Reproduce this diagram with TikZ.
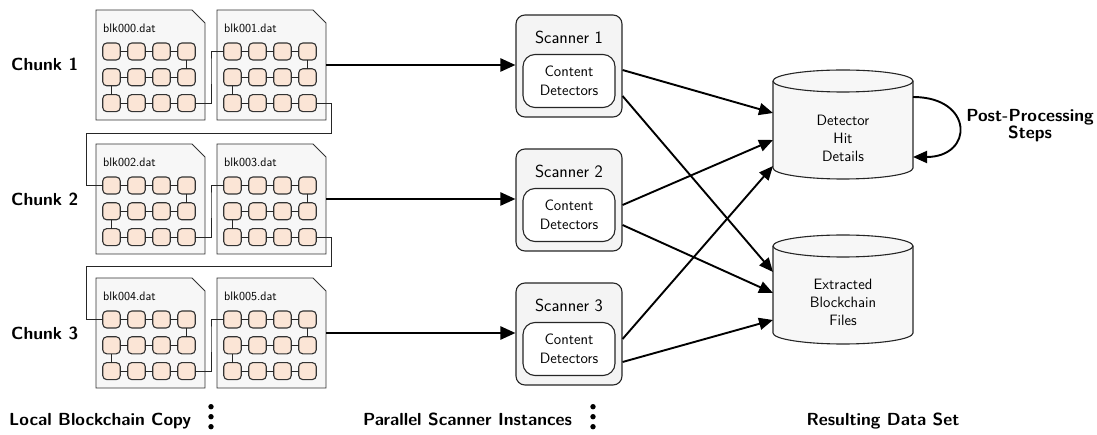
\documentclass[tikz,border=0pt]{standalone}
\usetikzlibrary{arrows.meta,calc}

\definecolor{blockfill}{HTML}{FBE5D6}
\definecolor{paper}{HTML}{F7F7F7}
\definecolor{boxfill}{HTML}{F4F4F4}

\tikzset{
  filenode/.style={minimum width=109pt, minimum height=110pt, inner sep=0pt, outer sep=0pt},
  filebody/.style={draw=black!80, line width=0.9pt, fill=paper},
  blockbox/.style={draw=black!80, line width=1.1pt, fill=blockfill, rounded corners=4pt,
    minimum width=17.5pt, minimum height=17pt, inner sep=0pt, outer sep=0pt},
  chainlink/.style={draw=black!85, line width=0.9pt},
  filelabel/.style={font=\sffamily\fontsize{12.3}{14}\selectfont, inner sep=0pt, anchor=base west},
  scanner/.style={draw=black!85, line width=1.1pt, fill=boxfill, rounded corners=9pt,
    minimum width=106pt, minimum height=102pt, inner sep=0pt},
  scantitle/.style={font=\sffamily\fontsize{17.5}{20}\selectfont, inner sep=0pt, anchor=base},
  detector/.style={draw=black!85, line width=1.1pt, fill=white, rounded corners=12pt,
    minimum width=92pt, minimum height=53pt, inner sep=0pt, align=center,
    font=\sffamily\fontsize{15}{18.5}\selectfont},
  cylnode/.style={minimum width=140pt, minimum height=109pt, inner sep=0pt, outer sep=0pt},
  cylhull/.style={draw=black!85, line width=1.1pt, fill=paper},
  cylrim/.style={draw=black!85, line width=1.1pt},
  cyltext/.style={align=center, font=\sffamily\fontsize{15}{18}\selectfont, inner sep=0pt},
  heading/.style={font=\sffamily\bfseries\fontsize{17.5}{15.6}\selectfont, inner sep=0pt},
  bigarrow/.style={line width=2.4pt, -{Triangle[length=15pt,width=13pt]}},
  outarrow/.style={line width=1.9pt, -{Triangle[length=14pt,width=12pt]}},
}

\begin{document}
\begin{tikzpicture}[x=1pt,y=1pt]
\useasboundingbox (0,0) rectangle (1097,-435);

% ---- block files: three chunks of two files each ----
\foreach \r in {0,1,2}{
  \foreach \c in {0,1}{
    \pgfmathsetmacro\L{96+121*\c}
    \pgfmathsetmacro\T{10+134*\r}
    \pgfmathtruncatemacro\n{2*\r+\c}
    \node[filenode, anchor=north west] (f\r\c) at ({\L},{-\T}) {};
    \draw[filebody] (f\r\c.south west) -- (f\r\c.north west)
      -- ([xshift=-13pt]f\r\c.north east) -- ([yshift=-13pt]f\r\c.north east)
      -- (f\r\c.south east) -- cycle;
    \node[filelabel] (f\r\c-lbl) at ({\L+7},{-\T-22.5}) {blk00\n.dat};
    \foreach \i in {0,1,2}{
      \foreach \j in {0,1,2,3}{
        \node[blockbox] (f\r\c-\i-\j) at ({\L+15.5+25*\j},{-(\T+41.5+25.8*\i)}) {};
      }
      \foreach \j/\k in {0/1,1/2,2/3}{
        \draw[chainlink] (f\r\c-\i-\j.east) -- (f\r\c-\i-\k.west);
      }
    }
    \draw[chainlink] (f\r\c-0-3.south) -- (f\r\c-1-3.north);
    \draw[chainlink] (f\r\c-1-0.south) -- (f\r\c-2-0.north);
  }
}

% chain continues from the first to the second file of each chunk
\foreach \r in {0,1,2}{
  \draw[chainlink] (f\r0-2-3.east) -| ($(f\r0.east)!0.5!(f\r1.west)$) |- (f\r1-0-0.west);
}

% chain continues from one chunk to the next
\coordinate (wrapA1) at (331,-133.5);
\coordinate (wrapA2) at (86,-133.5);
\coordinate (wrapB1) at (331,-266);
\coordinate (wrapB2) at (86,-266);
\draw[chainlink] (f01-2-3.east) -| (wrapA1) -- (wrapA2) |- (f10-0-0.west);
\draw[chainlink] (f11-2-3.east) -| (wrapB1) -- (wrapB2) |- (f20-0-0.west);

% chunk labels
\node[heading, anchor=base west] (chunk1) at (11,-71) {Chunk 1};
\node[heading, anchor=base west] (chunk2) at (11,-205.5) {Chunk 2};
\node[heading, anchor=base west] (chunk3) at (11,-340) {Chunk 3};

% ---- scanner instances ----
\foreach \k in {1,2,3}{
  \node[scanner] (s\k) at (569,{-(66+134*(\k-1))}) {};
  \node[scantitle] (s\k-title) at ([yshift=22.7pt]s\k.center) {Scanner \k};
  \node[detector] (d\k) at ([yshift=-15pt]s\k.center) {Content\\Detectors};
}

\draw[bigarrow] (f01.east) -- (f01.east -| s1.west);
\draw[bigarrow] (f11.east) -- (f11.east -| s2.west);
\draw[bigarrow] (f21.east) -- (f21.east -| s3.west);

% ---- result stores ----
\node[cylnode] (cyl1) at (843,-124.5) {};
\node[cylnode] (cyl2) at (843,-289.5) {};
\foreach \cy in {cyl1,cyl2}{
  \draw[cylhull] ([yshift=-11pt]\cy.north west) -- ([yshift=11pt]\cy.south west)
    arc[start angle=180, end angle=360, x radius=70pt, y radius=11pt]
    -- ([yshift=-11pt]\cy.north east)
    arc[start angle=0, end angle=180, x radius=70pt, y radius=11pt] -- cycle;
  \draw[cylrim] ([yshift=-11pt]\cy.north west)
    arc[start angle=180, end angle=360, x radius=70pt, y radius=11pt];
}
\node[cyltext] (cyl1-text) at ([yshift=-14pt]cyl1.center) {Detector\\Hit\\Details};
\node[cyltext] (cyl2-text) at ([yshift=-13pt]cyl2.center) {Extracted\\Blockchain\\Files};

% scanner outputs
\draw[outarrow] ([yshift=-4pt]s1.east)  -- ([yshift=11.5pt]cyl1.west);
\draw[outarrow] ([yshift=-30pt]s1.east) -- ([yshift=17.5pt]cyl2.west);
\draw[outarrow] ([yshift=-5pt]s2.east)  -- ([yshift=-15.5pt]cyl1.west);
\draw[outarrow] ([yshift=-25pt]s2.east) -- ([yshift=-3.5pt]cyl2.west);
\draw[outarrow] ([yshift=-5pt]s3.east)  -- ([yshift=-41.5pt]cyl1.west);
\draw[outarrow] ([yshift=-28pt]s3.east) -- ([yshift=-30.5pt]cyl2.west);

% post-processing loop
\draw[outarrow] ([yshift=-27pt]cyl1.north east) .. controls +(61,0) and +(61,0) .. ([yshift=-87pt]cyl1.north east);
\node[heading, align=center] (post) at (1030,-126) {Post-Processing\\Steps};

% ---- column captions ----
\node[heading, anchor=base west] (cap-copy) at (9,-425) {Local Blockchain Copy};
\node[heading, anchor=base west] (cap-scan) at (363,-425) {Parallel Scanner Instances};
\node[heading, anchor=base] (cap-data) at (883,-425) {Resulting Data Set};
\foreach \yy in {406.7,416.7,426.7}{
  \fill (211,-\yy) circle[radius=2.7pt];
  \fill (593,-\yy) circle[radius=2.7pt];
}
\end{tikzpicture}
\end{document}
